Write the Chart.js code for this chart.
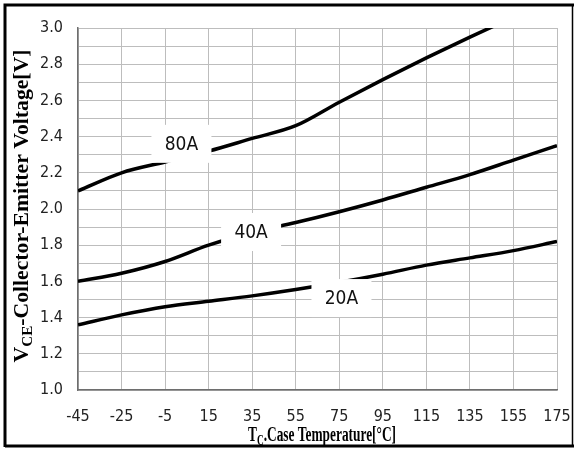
<!DOCTYPE html>
<html>
<head>
<meta charset="utf-8">
<script src="https://cdn.jsdelivr.net/npm/chart.js@4.4.0/dist/chart.umd.min.js"></script>
<style>
  html, body { margin: 0; padding: 0; background: #fff; overflow: hidden; }
  #wrap { width: 574px; height: 450px; }
</style>
</head>
<body>
<div id="wrap"><canvas id="vceChart" width="574" height="450"></canvas></div>
<script>
// данные с графика
var temps = [-45, -25, -5, 15, 35, 55, 75, 95, 115, 135, 155, 175];
var vce20 = [1.36, 1.415, 1.46, 1.49, 1.52, 1.555, 1.595, 1.64, 1.69, 1.73, 1.77, 1.82];
var vce40 = [1.60, 1.645, 1.71, 1.80, 1.87, 1.925, 1.985, 2.05, 2.12, 2.19, 2.27, 2.35];
var vce80 = [2.10, 2.20, 2.26, 2.32, 2.39, 2.46, 2.59, 2.715, 2.835, 2.95, 3.06];

var xTicks = [-45, -25, -5, 15, 35, 55, 75, 95, 115, 135, 155, 175];
var yTicks = [1.0, 1.1, 1.2, 1.3, 1.4, 1.5, 1.6, 1.7, 1.8, 1.9, 2.0, 2.1, 2.2, 2.3, 2.4, 2.5, 2.6, 2.7, 2.8, 2.9, 3.0];

// подписи кривых (в единицах осей)
var curveNames = ['80A', '40A', '20A'];
var curveNameX = [2.5, 34.5, 76];
var curveNameY = [2.36, 1.873, 1.508];

var tickFont = "'Liberation Sans Narrow', 'DejaVu Sans Condensed', sans-serif";
var titleFont = "'Liberation Serif', 'DejaVu Serif', serif";

function toPoints(vals) {
    return vals.map(function(v, i) { return { x: temps[i], y: v }; });
}

function lineSet(vals) {
    return {
        data: toPoints(vals),
        borderColor: '#000',
        borderWidth: 3.5,
        pointRadius: 0,
        fill: false,
        cubicInterpolationMode: 'monotone'
    };
}

// рамка, подписи осей и кривых
var decorPlugin = {
    id: 'decor',
    beforeDraw: function(chart) {
        var c = chart.ctx;
        c.save();
        c.fillStyle = '#fff';
        c.fillRect(0, 0, chart.width, chart.height);
        c.restore();
    },
    afterDatasetsDraw: function(chart) {
        var c = chart.ctx;
        var xs = chart.scales.x, ys = chart.scales.y;
        c.save();
        c.font = '19px ' + tickFont;
        c.textAlign = 'center';
        c.textBaseline = 'middle';
        for (var i = 0; i < curveNames.length; i++) {
            var px = xs.getPixelForValue(curveNameX[i]);
            var py = ys.getPixelForValue(curveNameY[i]);
            c.fillStyle = '#fff';
            c.fillRect(px - 30, py - 19, 60, 38);
            c.fillStyle = '#111';
            c.fillText(curveNames[i], px, py + 1);
        }
        c.restore();
    },
    afterDraw: function(chart) {
        var c = chart.ctx;
        c.save();
        // внешняя рамка
        c.strokeStyle = '#000';
        c.lineWidth = 3;
        c.beginPath();
        c.moveTo(5, 447);
        c.lineTo(5, 5);
        c.lineTo(580, 5);
        c.moveTo(5, 446);
        c.lineTo(580, 446);
        c.stroke();
        c.lineWidth = 1.5;
        c.beginPath();
        c.moveTo(572.5, 5);
        c.lineTo(572.5, 446);
        c.stroke();

        c.fillStyle = '#000';
        c.textAlign = 'left';
        c.textBaseline = 'alphabetic';
        // подпись оси X: T_C.Case Temperature[°C]
        drawSub(c, 'T', 'C', '.Case Temperature[\u00B0C]', 322, 441, 20, 148);
        // подпись оси Y
        c.translate(28, 206);
        c.rotate(-Math.PI / 2);
        drawSub(c, 'V', 'CE', '-Collector-Emitter Voltage[V]', 0, 0, 20, 313);
        c.restore();
    }
};

function drawSub(c, main, sub, rest, cx, by, size, targetW) {
    var big = 'bold ' + size + 'px ' + titleFont;
    var small = 'bold ' + Math.round(size * 0.68) + 'px ' + titleFont;
    c.font = big; var w1 = c.measureText(main).width;
    c.font = small; var w2 = c.measureText(sub).width;
    c.font = big; var w3 = c.measureText(rest).width;
    var k = targetW / (w1 + w2 + w3);
    c.save();
    c.translate(cx - targetW / 2, by);
    c.scale(k, 1);
    c.font = big; c.fillText(main, 0, 0);
    c.font = small; c.fillText(sub, w1, 4);
    c.font = big; c.fillText(rest, w1 + w2, 0);
    c.restore();
}

var ctx = document.getElementById('vceChart').getContext('2d');
var vceChart = new Chart(ctx, {
    type: 'line',
    data: {
        datasets: [lineSet(vce80), lineSet(vce40), lineSet(vce20)]
    },
    options: {
        responsive: false,
        animation: false,
        layout: { padding: { left: 0, top: 28, right: 17, bottom: 0 } },
        plugins: { legend: { display: false }, tooltip: { enabled: false } },
        scales: {
            x: {
                type: 'linear',
                min: -45,
                max: 175,
                afterBuildTicks: function(scale) {
                    scale.ticks = xTicks.map(function(v) { return { value: v }; });
                },
                afterFit: function(scale) {
                    scale.height = 60;
                    scale.paddingLeft = 0;
                    scale.paddingRight = 0;
                },
                grid: { color: '#bdbdbd', lineWidth: 1, drawTicks: false },
                border: { color: '#6e6e6e', width: 1.5 },
                ticks: {
                    padding: 17,
                    color: '#222',
                    font: { family: tickFont, size: 16 },
                    maxRotation: 0,
                    autoSkip: false
                }
            },
            y: {
                min: 1.0,
                max: 3.0,
                afterBuildTicks: function(scale) {
                    scale.ticks = yTicks.map(function(v) { return { value: v }; });
                },
                afterFit: function(scale) {
                    scale.width = 78;
                    scale.paddingTop = 0;
                    scale.paddingBottom = 0;
                },
                grid: { color: '#bdbdbd', lineWidth: 1, drawTicks: false },
                border: { color: '#6e6e6e', width: 1.5 },
                ticks: {
                    padding: 15,
                    color: '#222',
                    font: { family: tickFont, size: 16 },
                    autoSkip: false,
                    callback: function(v) {
                        return Math.round(v * 10) % 2 === 0 ? v.toFixed(1) : '';
                    }
                }
            }
        }
    },
    plugins: [decorPlugin]
});
</script>
</body>
</html>
